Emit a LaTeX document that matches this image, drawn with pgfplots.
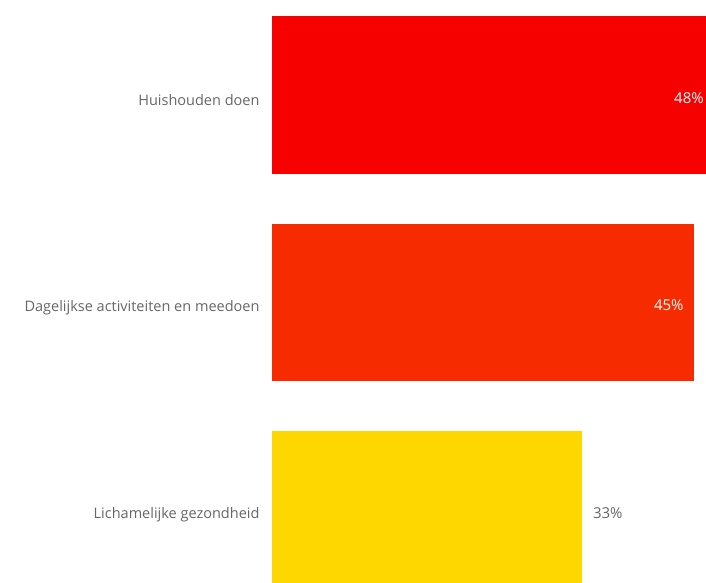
\documentclass[border=0pt]{standalone}
\usepackage{pgfplots}
\pgfplotsset{compat=1.18}
\usepackage{fontspec}
\setmainfont{Open Sans}
\definecolor{cRed}{HTML}{F60000}
\definecolor{cOrange}{HTML}{F72B00}
\definecolor{cYellow}{HTML}{FFD700}
\definecolor{cText}{HTML}{666666}
\begin{document}
\begin{tikzpicture}[x=1pt,y=1pt]
\useasboundingbox (-272,0) rectangle (434,582);
\begin{axis}[
  at={(0,0)}, anchor=south west,
  scale only axis, width=469pt, height=582pt,
  xbar, bar width=0.757,
  xmin=0, xmax=50,
  ymin=-0.4578, ymax=2.347, y dir=reverse,
  ytick={0,1,2},
  yticklabels={Huishouden doen,Dagelijkse activiteiten en meedoen,Lichamelijke gezondheid},
  xtick=\empty,
  axis line style={draw=none},
  major tick length=0pt,
  yticklabel style={font=\fontsize{14.5}{17}\selectfont, text=cText, xshift=-9pt, yshift=-5pt},
  /pgf/number format/assume math mode=true,
  point meta=x,
  nodes near coords={\pgfmathprintnumber{\pgfplotspointmeta}\%},
  nodes near coords style={font=\fontsize{15}{17}\selectfont, yshift=-3pt},
  clip=true,
]
\addplot[draw=none, fill=cRed, bar shift=0pt,
  every node near coord/.append style={anchor=east, xshift=-15pt, text=white}]
  coordinates {(48,0)};
\addplot[draw=none, fill=cOrange, bar shift=0pt,
  every node near coord/.append style={anchor=east, xshift=-7pt, text=white}]
  coordinates {(45,1)};
\addplot[draw=none, fill=cYellow, bar shift=0pt,
  every node near coord/.append style={anchor=west, xshift=8pt, text=cText}]
  coordinates {(33,2)};
\end{axis}
\end{tikzpicture}
\end{document}
